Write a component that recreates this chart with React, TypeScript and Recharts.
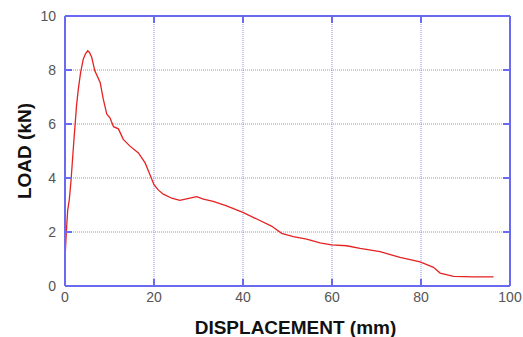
import { LineChart, Line, XAxis, YAxis, CartesianGrid, Label, ReferenceLine } from "recharts";

const displacement = [
  0, 0.3, 0.6, 0.97, 1.35, 2.0, 2.6, 3.0, 3.5, 4.1, 4.6, 5.1, 5.5, 6.0, 6.7, 7.9, 8.6, 9.4,
  10.1, 10.9, 12.0, 13.1, 14.6, 16.5, 18.0, 19.1, 20.0, 21.0, 22.1, 24.0, 25.8, 27.3, 29.6,
  31.1, 33.3, 36.3, 40.1, 43.1, 46.4, 48.7, 51.3, 54.3, 57.3, 59.9, 63.3, 66.3, 70.8, 75.3,
  79.8, 82.8, 84.3, 87.3, 91.8, 96.3,
];
const load = [
  1.0, 2.0, 2.8, 3.2, 3.9, 5.4, 6.7, 7.3, 7.9, 8.4, 8.6, 8.71, 8.65, 8.47, 7.97, 7.54, 6.92, 6.36,
  6.23, 5.9, 5.82, 5.43, 5.18, 4.93, 4.56, 4.12, 3.75, 3.55, 3.4, 3.25, 3.17, 3.23, 3.31,
  3.22, 3.13, 2.97, 2.72, 2.48, 2.22, 1.95, 1.83, 1.74, 1.6, 1.52, 1.49, 1.39, 1.27, 1.06,
  0.89, 0.69, 0.48, 0.36, 0.34, 0.34,
];
const xTicks = [0, 20, 40, 60, 80, 100];
const yTicks = [0, 2, 4, 6, 8, 10];

const data = displacement.map((x, i) => ({ x, load: load[i] }));

const FRAME = "#6a6af0";
const FONT = "Liberation Sans, Arial, sans-serif";
const PLOT_TOP = 16;
const PLOT_RIGHT = 510;

// ticks point inward from every side of the frame, labels sit outside
const BottomTick = ({ x, y, payload }: any) => (
  <g>
    <path d={`M${x},${y}V${y - 7}M${x},${PLOT_TOP}V${PLOT_TOP + 7}`} stroke={FRAME} strokeWidth={2} fill="none" />
    <text x={x} y={y + 16} textAnchor="middle" fontSize={14} fill="#555" fontFamily={FONT}>
      {payload.value}
    </text>
  </g>
);

const LeftTick = ({ x, y, payload }: any) => (
  <g>
    <path d={`M${x},${y}H${x + 7}M${PLOT_RIGHT},${y}H${PLOT_RIGHT - 7}`} stroke={FRAME} strokeWidth={2} fill="none" />
    <text x={x - 9} y={y + 5} textAnchor="end" fontSize={14} fill="#555" fontFamily={FONT}>
      {payload.value}
    </text>
  </g>
);

export default function App() {
  return (
    <div style={{ position: "absolute", left: 0, top: 0, background: "#fff" }}>
      <LineChart width={523} height={337} data={data} margin={{ top: PLOT_TOP, right: 523 - PLOT_RIGHT, bottom: 0, left: 0 }}>
        <CartesianGrid stroke="#8f8ff5" strokeDasharray="1 1" vertical horizontal />
        <XAxis
          dataKey="x"
          type="number"
          domain={[0, 100]}
          ticks={xTicks}
          height={51}
          tickSize={0}
          tickMargin={0}
          tickLine={false}
          axisLine={{ stroke: FRAME, strokeWidth: 2 }}
          tick={<BottomTick />}
        >
          <Label
            content={({ viewBox }: any) => (
              <text
                x={viewBox.x + viewBox.width / 2 + 8}
                y={334}
                textAnchor="middle"
                fontSize={19}
                fontWeight="bold"
                fill="#111"
                fontFamily={FONT}
              >
                DISPLACEMENT (mm)
              </text>
            )}
          />
        </XAxis>
        <YAxis
          type="number"
          domain={[0, 10]}
          ticks={yTicks}
          width={65}
          tickSize={0}
          tickMargin={0}
          tickLine={false}
          axisLine={{ stroke: FRAME, strokeWidth: 2 }}
          tick={<LeftTick />}
        >
          <Label
            content={({ viewBox }: any) => {
              const cx = 31;
              const cy = viewBox.y + viewBox.height / 2;
              return (
                <text
                  x={cx}
                  y={cy}
                  transform={`rotate(-90 ${cx} ${cy})`}
                  textAnchor="middle"
                  fontSize={19}
                  fontWeight="bold"
                  fill="#111"
                  fontFamily={FONT}
                >
                  LOAD (kN)
                </text>
              );
            }}
          />
        </YAxis>
        {/* top and right edges of the frame */}
        <ReferenceLine y={10} stroke={FRAME} strokeWidth={2} />
        <ReferenceLine x={100} stroke={FRAME} strokeWidth={2} />
        <Line
          type="linear"
          dataKey="load"
          stroke="#e52222"
          strokeWidth={1.3}
          dot={false}
          isAnimationActive={false}
        />
      </LineChart>
    </div>
  );
}
